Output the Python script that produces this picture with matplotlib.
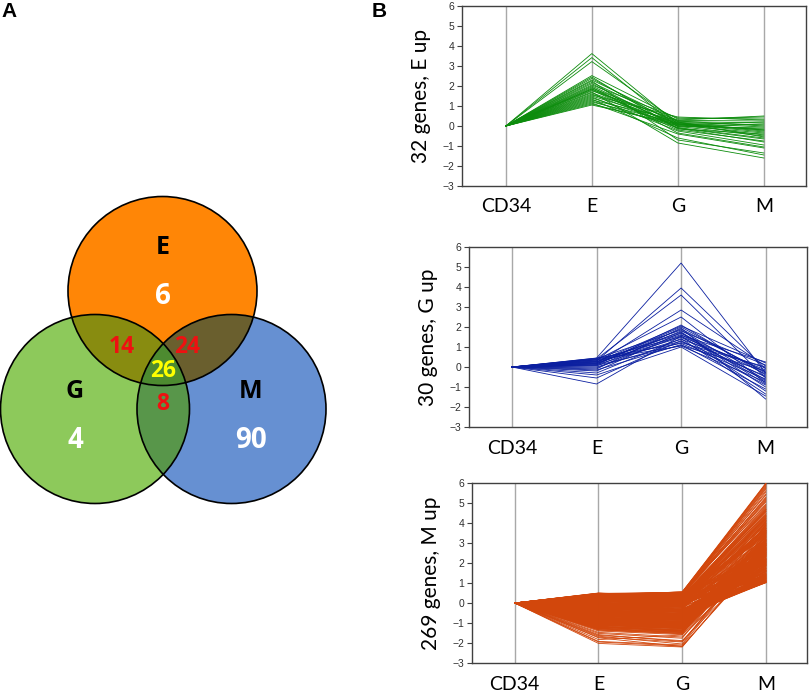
import matplotlib
matplotlib.use("Agg")
import matplotlib.pyplot as plt
import numpy as np
from matplotlib.patches import Circle, Polygon

# Venn diagram counts (panel A)
set_names = ["E", "G", "M"]
only_counts = [6, 4, 90]
pair_names = ["E&G", "E&M", "G&M"]
pair_counts = [14, 24, 8]
triple_count = 26

# Panel B: expression profiles (log ratio vs CD34), one value per gene and stage
stages = ["CD34", "E", "G", "M"]

e_up_E = [3.62, 3.42, 3.22, 2.52, 2.45, 2.38, 2.30, 2.25, 2.18, 2.12, 2.05, 2.00, 1.95, 1.90, 1.85, 1.80,
          1.76, 1.70, 1.66, 1.60, 1.55, 1.50, 1.45, 1.40, 1.35, 1.30, 1.25, 1.20, 1.15, 1.10, 1.05, 1.85]
e_up_G = [0.10, -0.05, 0.20, 0.35, -0.15, 0.05, 0.25, -0.70, 0.15, -0.10, 0.40, 0.00, -0.35, 0.22, 0.08, -0.20,
          0.30, -0.85, 0.12, -0.02, 0.45, 0.18, -0.25, 0.05, -0.60, 0.28, -0.08, 0.15, -0.40, 0.02, 0.10, -0.12]
e_up_M = [-0.30, 0.10, -0.55, 0.45, -0.40, 0.20, 0.00, -1.35, -0.20, -0.65, 0.35, -0.10, -1.05, 0.15, -0.45, -0.75,
          0.50, -1.60, -0.25, -0.50, 0.30, 0.05, -0.95, -0.15, -1.45, 0.25, -0.60, -0.05, -1.10, -0.35, -0.20, -0.80]

g_up_E = [-0.85, 0.45, 0.30, 0.40, 0.20, 0.35, 0.10, 0.25, -0.10, 0.15, 0.42, 0.05, -0.20, 0.32, 0.18,
          -0.05, 0.38, 0.22, -0.30, 0.12, -0.55, 0.28, 0.00, 0.44, -0.15, 0.08, 0.36, -0.40, 0.16, 0.26]
g_up_G = [1.55, 5.20, 3.95, 3.60, 2.85, 2.50, 2.10, 2.05, 1.95, 1.90, 1.85, 1.80, 1.72, 1.68, 1.62,
          1.58, 1.52, 1.48, 1.42, 1.38, 1.32, 1.28, 1.22, 1.18, 1.12, 1.08, 1.05, 1.00, 2.00, 1.75]
g_up_M = [-1.20, -0.30, -0.10, -0.55, 0.05, -0.80, -0.40, 0.20, -1.60, -0.25, -0.65, 0.10, -1.00, -0.35, -0.70,
          0.25, -0.15, -0.50, -1.35, -0.05, -0.90, -0.45, 0.00, -0.60, -1.10, -0.20, -0.75, -1.45, -0.30, -0.85]

m_up_E = [0.45, 0.12, -0.35, -0.82, 0.28, -1.05, -0.15, 0.38, -0.62, -1.21, 0.05, -0.48, 0.31, -0.93, -0.27, 0.49, -0.71, -1.12, 0.18, -0.41,
          -0.05, 0.42, -0.88, -1.28, 0.22, -0.55, -0.19, 0.34, -1.01, -0.66, 0.09, -0.37, 0.47, -0.79, -1.17, 0.15, -0.24, -0.58, 0.26, -0.97,
          -1.34, 0.40, -0.11, -0.74, 0.02, -0.45, 0.33, -1.09, -0.30, 0.19, -0.86, -0.52, 0.44, -1.24, -0.08, 0.25, -0.67, -0.39, 0.11, -0.95,
          -1.47, 0.36, -0.21, -0.60, 0.07, -1.14, 0.29, -0.44, -0.83, 0.48, -0.13, -1.02, 0.16, -0.69, -0.33, 0.39, -1.19, -0.50, 0.03, -0.77,
          -1.58, 0.43, -0.17, -0.90, 0.21, -0.57, -1.26, 0.32, -0.04, -0.73, 0.13, -0.42, -1.08, 0.46, -0.29, -0.64, 0.08, -0.99, 0.27, -0.36,
          -1.66, 0.37, -0.10, -0.81, 0.24, -0.53, -1.16, 0.41, -0.23, -0.70, 0.01, -0.47, -0.92, 0.30, -0.14, -1.30, 0.17, -0.61, 0.35, -0.85,
          -1.74, 0.50, -0.26, -0.98, 0.14, -0.40, -1.11, 0.23, -0.65, -0.06, 0.44, -0.78, -0.32, 0.10, -1.22, 0.37, -0.54, -0.18, 0.04, -0.89,
          -1.83, 0.41, -0.12, -0.75, 0.26, -0.49, -1.04, 0.31, -0.38, -0.68, 0.06, -0.94, 0.47, -0.22, -1.27, 0.20, -0.59, -0.02, 0.33, -0.80,
          -1.92, 0.39, -0.16, -0.87, 0.12, -0.51, -1.13, 0.28, -0.43, -0.72, 0.00, -0.96, 0.45, -0.25, -1.20, 0.18, -0.63, -0.09, 0.36, -0.84,
          -2.02, 0.34, -0.20, -0.91, 0.23, -0.46, -1.07, 0.42, -0.34, -0.76, 0.09, -1.00, 0.48, -0.28, -1.33, 0.14, -0.56, -0.07, 0.29, -0.79,
          -1.40, 0.46, -0.31, -0.83, 0.17, -0.58, -1.18, 0.35, -0.45, -0.67, 0.03, -0.93, 0.40, -0.19, -1.25, 0.22, -0.62, -0.11, 0.32, -0.87,
          -1.52, 0.38, -0.24, -0.94, 0.20, -0.50, -1.10, 0.27, -0.36, -0.71, 0.06, -1.03, 0.43, -0.16, -1.36, 0.13, -0.60, -0.03, 0.24, -0.82,
          -1.62, 0.44, -0.27, -0.89, 0.10, -0.44, -1.15, 0.30, -0.40, -0.74, 0.01, -0.97, 0.49, -0.21, -1.29, 0.16, -0.55, -0.13, 0.35, -0.78,
          -1.95, -1.71, 0.41, -0.33, -0.86, 0.19, -0.52, -1.06, 0.25]
m_up_G = [0.52, -0.10, -0.18, -1.05, 0.40, -0.88, -0.36, 0.21, -0.80, -1.40, 0.22, -0.61, 0.48, -1.12, -0.05, 0.30, -0.95, -0.98, 0.35, -0.24,
          0.14, 0.55, -1.10, -1.18, 0.02, -0.70, 0.05, 0.44, -1.25, -0.48, -0.12, -0.55, 0.33, -0.60, -1.38, 0.34, -0.42, -0.75, 0.46, -1.15,
          -1.52, 0.28, 0.10, -0.92, -0.20, -0.28, 0.50, -1.30, -0.47, 0.38, -1.02, -0.30, 0.26, -1.08, -0.25, 0.42, -0.85, -0.58, -0.06, -0.78,
          -1.70, 0.47, -0.02, -0.81, 0.25, -1.33, 0.11, -0.62, -0.66, 0.53, -0.31, -1.20, 0.36, -0.50, -0.52, 0.20, -1.42, -0.34, 0.18, -0.96,
          -1.92, 0.30, -0.38, -0.72, 0.41, -0.76, -1.45, 0.50, -0.22, -0.55, -0.05, -0.60, -1.28, 0.32, -0.10, -0.82, 0.26, -1.18, 0.08, -0.54,
          -2.05, 0.49, 0.08, -1.00, 0.06, -0.35, -1.35, 0.24, -0.41, -0.88, 0.19, -0.66, -1.10, 0.45, -0.32, -1.48, -0.02, -0.79, 0.52, -1.04,
          -2.18, 0.33, -0.44, -1.16, 0.32, -0.58, -0.94, 0.40, -0.83, 0.12, 0.51, -0.97, -0.14, -0.08, -1.40, 0.18, -0.72, 0.00, 0.22, -0.70,
          -1.60, 0.55, -0.30, -0.93, 0.08, -0.31, -1.22, 0.13, -0.56, -0.50, 0.24, -1.12, 0.29, -0.40, -1.44, 0.39, -0.77, 0.16, 0.15, -0.98,
          -2.10, 0.21, 0.02, -1.05, 0.30, -0.69, -0.95, 0.46, -0.61, -0.54, -0.18, -1.14, 0.54, -0.07, -1.38, -0.01, -0.81, 0.09, 0.18, -0.66,
          -2.20, 0.52, -0.38, -0.73, 0.05, -0.64, -1.25, 0.24, -0.16, -0.94, 0.27, -0.82, 0.30, -0.46, -1.51, 0.32, -0.74, 0.11, 0.47, -0.97,
          -1.58, 0.28, -0.13, -1.01, 0.35, -0.40, -1.36, 0.53, -0.63, -0.49, -0.15, -1.11, 0.22, -0.37, -1.07, 0.04, -0.80, 0.07, 0.14, -1.05,
          -1.76, 0.56, -0.42, -0.76, 0.02, -0.68, -1.28, 0.45, -0.18, -0.89, 0.24, -1.21, 0.25, -0.34, -1.54, 0.31, -0.42, -0.21, 0.42, -1.00,
          -1.88, 0.26, -0.09, -1.07, 0.28, -0.62, -0.97, 0.12, -0.58, -0.56, 0.19, -1.15, 0.36, -0.03, -1.47, 0.34, -0.73, 0.05, 0.17, -0.96,
          -2.15, -1.95, 0.50, -0.51, -1.04, 0.37, -0.34, -1.24, 0.07]
m_up_M = [5.95, 2.15, 1.42, 3.10, 2.60, 2.85, 1.05, 3.72, 1.88, 3.35, 4.20, 1.30, 2.02, 2.70, 1.65, 4.85, 2.40, 3.05, 1.18, 2.95,
          1.55, 5.40, 2.75, 3.90, 1.12, 2.25, 3.48, 2.08, 4.10, 1.02, 2.88, 1.75, 4.45, 1.38, 3.62, 2.52, 1.95, 3.20, 1.08, 2.66,
          3.25, 4.65, 1.48, 2.36, 3.80, 1.22, 5.75, 2.92, 1.06, 3.42, 2.18, 4.05, 1.72, 3.15, 2.45, 1.35, 2.80, 1.15, 4.32, 2.10,
          2.55, 5.98, 3.58, 1.62, 2.32, 3.95, 1.28, 1.04, 2.98, 5.10, 3.30, 2.48, 4.55, 1.10, 1.85, 3.68, 2.62, 1.45, 4.00, 2.05,
          2.80, 4.25, 1.98, 1.25, 3.52, 2.70, 3.18, 5.62, 1.58, 1.02, 2.42, 3.85, 2.22, 4.75, 1.68, 2.95, 3.40, 1.92, 1.35, 3.10,
          3.45, 5.25, 2.12, 2.58, 1.40, 1.12, 2.90, 3.75, 2.35, 1.80, 4.15, 1.05, 3.62, 4.95, 2.00, 2.68, 3.28, 1.50, 5.85, 2.25,
          2.60, 3.98, 1.20, 3.35, 2.50, 1.70, 2.10, 4.40, 1.32, 3.05, 5.55, 2.78, 1.88, 2.30, 3.12, 4.60, 1.08, 3.55, 2.72, 1.60,
          2.42, 6.00, 1.52, 2.88, 3.70, 1.18, 3.22, 2.18, 1.10, 2.62, 4.48, 2.05, 3.88, 1.42, 3.50, 5.30, 1.75, 2.95, 4.10, 2.40,
          3.02, 3.62, 1.25, 2.50, 4.30, 1.60, 2.32, 5.05, 1.15, 1.90, 2.85, 3.40, 5.70, 1.48, 2.70, 3.95, 2.12, 1.30, 3.25, 1.02,
          2.68, 4.90, 1.78, 2.20, 3.15, 1.35, 2.58, 4.20, 1.95, 2.98, 3.60, 1.22, 2.45, 1.65, 3.30, 4.70, 2.02, 3.82, 5.45, 2.75,
          2.90, 4.05, 2.28, 1.85, 3.45, 1.08, 3.72, 5.20, 1.40, 2.15, 3.00, 2.55, 4.35, 1.55, 2.38, 1.98, 1.28, 3.58, 2.82, 3.18,
          3.38, 5.90, 1.62, 2.05, 2.72, 1.45, 2.95, 4.58, 3.08, 1.72, 3.90, 2.62, 2.18, 1.15, 3.52, 4.80, 1.88, 2.48, 3.32, 1.95,
          2.35, 4.12, 3.48, 2.65, 1.92, 1.30, 2.08, 3.78, 1.58, 1.12, 2.52, 3.12, 5.15, 4.25, 2.88, 3.65, 1.38, 2.22, 4.68, 1.82,
          2.50, 3.05, 5.80, 1.05, 2.40, 4.38, 1.22, 2.78, 3.55]

W, H = 810, 693
fig = plt.figure(figsize=(W / 100, H / 100), dpi=100)
font = ["Lato", "DejaVu Sans"]
bold_font = ["Open Sans", "DejaVu Sans"]

# ---------------- Panel A: Venn ----------------
ax_v = fig.add_axes([0, 0, 370 / W, 1])
ax_v.set_xlim(0, 370)
ax_v.set_ylim(H, 0)
ax_v.axis("off")

R = 94.5
centers = {"E": (162.5, 291.0), "G": (95.0, 409.0), "M": (231.5, 409.0)}
fill = {"E": "#ff8606", "G": "#8dc95b", "M": "#6690d2"}
pair_fill = {"E&G": "#888c10", "E&M": "#6a5f2e", "G&M": "#58964a"}
triple_fill = "#4d8b30"

for name in set_names:
    ax_v.add_patch(Circle(centers[name], R, facecolor=fill[name], edgecolor="none", zorder=1))

for pair in pair_names:
    a, b = pair.split("&")
    p = Circle(centers[a], R, facecolor=pair_fill[pair], edgecolor="none", zorder=2)
    ax_v.add_patch(p)
    p.set_clip_path(Circle(centers[b], R, transform=ax_v.transData))

# triple overlap: intersection of the three discs (convex), traced from boundaries
t = np.linspace(0, 2 * np.pi, 3000)
pts = []
for name in set_names:
    cx, cy = centers[name]
    bx, by = cx + R * np.cos(t), cy + R * np.sin(t)
    keep = np.ones_like(t, dtype=bool)
    for other in set_names:
        if other == name:
            continue
        ox, oy = centers[other]
        keep &= (bx - ox) ** 2 + (by - oy) ** 2 <= R ** 2
    pts.append(np.column_stack([bx[keep], by[keep]]))
pts = np.vstack(pts)
mid = pts.mean(axis=0)
pts = pts[np.argsort(np.arctan2(pts[:, 1] - mid[1], pts[:, 0] - mid[0]))]
ax_v.add_patch(Polygon(pts, closed=True, facecolor=triple_fill, edgecolor="none", zorder=3))

for name in set_names:
    ax_v.add_patch(Circle(centers[name], R, facecolor="none", edgecolor="black", lw=1.2, zorder=4))

label_pos = {"E": (163, 248), "G": (75, 392), "M": (251, 392)}
count_pos = {"E": (163, 297), "G": (75, 440), "M": (251, 440)}
pair_pos = {"E&G": (122, 347), "E&M": (187, 347), "G&M": (163, 404)}
for name, n in zip(set_names, only_counts):
    ax_v.text(*label_pos[name], name, ha="center", va="center", fontsize=18, fontweight="bold",
              family=bold_font, color="black", zorder=5)
    ax_v.text(*count_pos[name], str(n), ha="center", va="center", fontsize=20, fontweight="bold",
              family=bold_font, color="white", zorder=5)
for pair, n in zip(pair_names, pair_counts):
    ax_v.text(*pair_pos[pair], str(n), ha="center", va="center", fontsize=16.5, fontweight="bold",
              family=bold_font, color="#ee1111", zorder=5)
ax_v.text(163, 371, str(triple_count), ha="center", va="center", fontsize=16.5, fontweight="bold",
          family=bold_font, color="#ffff00", zorder=5)

fig.text(1 / W, 1 - 2 / H, "A", fontsize=15, fontweight="bold", family="Liberation Sans", va="top")
fig.text(372 / W, 1 - 2 / H, "B", fontsize=15, fontweight="bold", family="Liberation Sans", va="top")

# ---------------- Panel B: profiles ----------------
panels = [
    ("32 genes, E up", e_up_E, e_up_G, e_up_M, "#0c8c0c", [462, 6, 806, 186]),
    ("30 genes, G up", g_up_E, g_up_G, g_up_M, "#0b1fa0", [469, 247, 807, 427]),
    ("269 genes, M up", m_up_E, m_up_G, m_up_M, "#d2470c", [472, 483, 807, 663]),
]
x = np.arange(1, len(stages) + 1)
for title, ev, gv, mv, color, (l, t_, r, b) in panels:
    ax = fig.add_axes([l / W, 1 - b / H, (r - l) / W, (b - t_) / H])
    for e, g, m in zip(ev, gv, mv):
        ax.plot(x, [0, e, g, m], color=color, lw=0.6, solid_joinstyle="miter", zorder=3)
    ax.set_xlim(0.49, 4.49)
    ax.set_ylim(-3, 6)
    ax.set_yticks(range(-3, 7))
    ax.set_xticks(x)
    ax.set_xticklabels(stages, family=font, fontsize=14)
    ax.grid(axis="x", color="#a8a8a8", lw=1.0, zorder=1)
    ax.tick_params(axis="x", length=0, pad=9)
    ax.tick_params(axis="y", length=3.5, width=0.8, color="#404040", labelsize=7.5,
                   labelcolor="#303030", pad=2)
    for lab in ax.get_yticklabels():
        lab.set_family("Liberation Sans")
    for s in ax.spines.values():
        s.set_color("#404040")
        s.set_linewidth(1.0)
    ax.set_ylabel(title, family=font, fontsize=15, labelpad=8)

fig.savefig("out.png", dpi=100)
